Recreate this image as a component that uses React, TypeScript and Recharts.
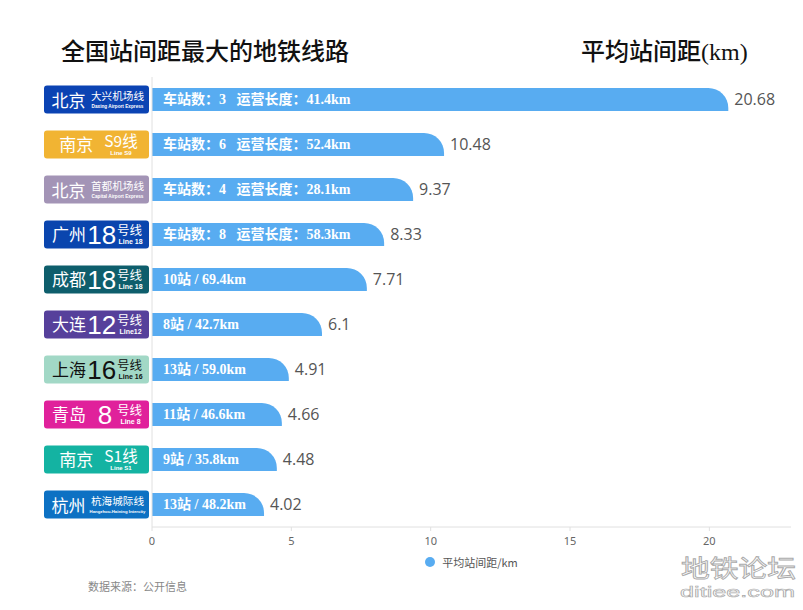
import React from 'react';
import { BarChart, Bar, XAxis, YAxis, LabelList, Legend } from 'recharts';

const lineKeys = ['北京大兴机场线', '南京S9线', '北京首都机场线', '广州18号线', '成都18号线', '大连12号线', '上海16号线', '青岛8号线', '南京S1线', '杭州杭海城际线'];
const avgSpacing = [20.68, 10.48, 9.37, 8.33, 7.71, 6.1, 4.91, 4.66, 4.48, 4.02];
const stationCounts = [3, 6, 4, 8, 10, 8, 13, 11, 9, 13];
const routeLengths = ['41.4', '52.4', '28.1', '58.3', '69.4', '42.7', '59.0', '46.6', '35.8', '48.2'];
const cityNames = ['北京', '南京', '北京', '广州', '成都', '大连', '上海', '青岛', '南京', '杭州'];
const lineNamesCn = ['大兴机场线', 'S9线', '首都机场线', '18', '18', '12', '16', '8', 'S1线', '杭海城际线'];
const lineNamesEn = ['Daxing Airport Express', 'Line S9', 'Capital Airport Express', 'Line 18', 'Line 18', 'Line12', 'Line 16', 'Line 8', 'Line S1', 'Hangzhou-Haining Intercity'];
const badgeKinds = ['name', 's', 'name', 'num', 'num', 'num', 'num', 'num', 's', 'name'];
const badgeColors = ['#0b43b3', '#f1b433', '#a394b6', '#0a45ae', '#0e5e6c', '#56409b', '#a2d8c6', '#e0219b', '#14b3a2', '#0d71c3'];
const badgeTextColors = ['#fff', '#fff', '#fff', '#fff', '#fff', '#fff', '#111', '#fff', '#fff', '#fff'];
const xTicks = [0, 5, 10, 15, 20];

const BAR_COLOR = '#58acf1';
const CJK = "'Noto Sans CJK SC', 'Noto Sans', sans-serif";
const SANS = "'Liberation Sans', Arial, sans-serif";

const data = lineKeys.map((k, i) => ({
  line: k,
  value: avgSpacing[i],
  inner: i < 4
    ? `车站数：${stationCounts[i]}\u00A0\u00A0\u00A0运营长度：${routeLengths[i]}km`
    : `${stationCounts[i]}站 / ${routeLengths[i]}km`,
}));

const renderBar = (p: any) => {
  const { x, y, width, height, fill } = p;
  if (!width || width <= 0) return <g />;
  const r = Math.min(20, width, height);
  const d = `M${x},${y} H${x + width - r} A${r},${r} 0 0 1 ${x + width},${y + r} V${y + height} H${x} Z`;
  return <path d={d} fill={fill} />;
};

const renderInner = (p: any) => {
  const { x, y, height, value } = p;
  return (
    <text
      x={x + 11}
      y={y + height / 2}
      dominantBaseline="central"
      fill="#fff"
      fontWeight="bold"
      fontSize={14}
      fontFamily="'Liberation Serif', 'Noto Sans CJK SC', serif"
    >
      {value}
    </text>
  );
};

const renderBadge = (p: any) => {
  const { x, y, payload } = p;
  const i = lineKeys.indexOf(payload.value);
  if (i < 0) return <g />;
  const kind = badgeKinds[i];
  const col = badgeTextColors[i];
  const L = x - 108;
  const parts: any[] = [];
  if (kind === 'name') {
    parts.push(
      <text key="c" x={x - 83.5} y={y + 7.5} textAnchor="middle" fontSize={17} fontFamily={CJK} fill={col}>{cityNames[i]}</text>,
      <text key="n" x={x - 34.5} y={y + 0.5} textAnchor="middle" fontSize={10.6} fontFamily={CJK} fill={col}>{lineNamesCn[i]}</text>,
      <text key="e" x={x - 34.5} y={y + 8} textAnchor="middle" fontSize={i === 9 ? 4.3 : 4.7} fontWeight="bold" fontFamily={SANS} fill={col}>{lineNamesEn[i]}</text>,
    );
  } else if (kind === 's') {
    parts.push(
      <text key="c" x={x - 75.7} y={y + 6.5} textAnchor="middle" fontSize={17} fontFamily={CJK} fill={col}>{cityNames[i]}</text>,
      <text key="n" x={x - 31} y={y + 2} textAnchor="middle" fontSize={15.5} fontFamily={CJK} fill={col}>{lineNamesCn[i]}</text>,
      <text key="e" x={x - 31} y={y + 10.5} textAnchor="middle" fontSize={6} fontWeight="bold" fontFamily={SANS} fill={col}>{lineNamesEn[i]}</text>,
    );
  } else {
    const single = lineNamesCn[i].length === 1;
    parts.push(
      <text key="c" x={x - 83} y={y + 6.5} textAnchor="middle" fontSize={17} fontFamily={CJK} fill={col}>{cityNames[i]}</text>,
      <text key="d" x={x - (single ? 47 : 50.3)} y={y + 9.5} textAnchor="middle" fontSize={26} fontFamily={SANS} fill={col}>{lineNamesCn[i]}</text>,
      <text key="n" x={x - 22.5} y={y + 0} textAnchor="middle" fontSize={12.5} fontFamily={CJK} fill={col}>号线</text>,
      <text key="e" x={x - 21.5} y={y + 9} textAnchor="middle" fontSize={7} fontWeight="bold" fontFamily={SANS} fill={col}>{lineNamesEn[i]}</text>,
    );
  }
  return (
    <g>
      <rect x={L} y={y - 14} width={105} height={28} rx={3} ry={3} fill={badgeColors[i]} />
      {parts}
    </g>
  );
};

const renderLegend = () => (
  <div style={{ height: 10, display: 'flex', justifyContent: 'center', alignItems: 'center', overflow: 'visible' }}>
    <svg width={10} height={10} style={{ overflow: 'visible' }}>
      <circle cx={5} cy={5} r={5} fill={BAR_COLOR} />
    </svg>
    <span style={{ marginLeft: 7, fontSize: 11, color: '#555', fontFamily: CJK, lineHeight: '10px', whiteSpace: 'nowrap' }}>平均站间距/km</span>
  </div>
);

export default function App() {
  return (
    <div style={{ position: 'absolute', left: 0, top: 0, width: 803, height: 610, background: '#fff', fontFamily: "'Noto Sans', 'Noto Sans CJK SC', sans-serif" }}>
      <BarChart width={803} height={610} data={data} layout="vertical" margin={{ top: 77, right: 12, left: 0, bottom: 43 }} barSize={23}>
        <XAxis
          type="number"
          domain={[0, 22.93]}
          allowDataOverflow
          ticks={xTicks}
          axisLine={{ stroke: '#e0e0e0' }}
          tickLine={{ stroke: '#e0e0e0' }}
          tickSize={4}
          tickMargin={6}
          tick={{ fill: '#666', fontSize: 11 }}
          height={30}
        />
        <YAxis
          type="category"
          dataKey="line"
          width={152}
          interval={0}
          axisLine={{ stroke: '#e0e0e0' }}
          tickLine={false}
          tickSize={0}
          tickMargin={0}
          tick={renderBadge}
        />
        <Legend verticalAlign="bottom" content={renderLegend} wrapperStyle={{ left: 152, width: 639, height: 10 }} />
        <Bar dataKey="value" name="平均站间距/km" fill={BAR_COLOR} shape={renderBar} isAnimationActive={false}>
          <LabelList dataKey="inner" content={renderInner} />
          <LabelList dataKey="value" position="right" offset={6} fill="#555" fontSize={16} fontFamily="'Open Sans', 'Noto Sans', sans-serif" />
        </Bar>
      </BarChart>
      <svg width={803} height={610} style={{ position: 'absolute', left: 0, top: 0, pointerEvents: 'none' }}>
        <text x={61} y={60} fontSize={24} fontWeight={500} fontFamily={CJK} fill="#111">全国站间距最大的地铁线路</text>
        <text x={581} y={60} fontSize={24} fontWeight={500} fontFamily={CJK} fill="#111">
          平均站间距<tspan fontFamily="'Liberation Serif', serif" fontWeight={400}>(km)</tspan>
        </text>
        <text x={88} y={590.5} fontSize={11} fontFamily={CJK} fill="#888">数据来源：公开信息</text>
        <text x={681} y={577} fontSize={24} textLength={115} lengthAdjust="spacingAndGlyphs" fontFamily={CJK} fill="#fff" stroke="#aaa" strokeWidth={0.9}>地铁论坛</text>
        <text x={680} y={597} fontSize={15} textLength={115} lengthAdjust="spacingAndGlyphs" fontFamily={SANS} fill="#fff" stroke="#aaa" strokeWidth={0.6}>ditiee.com</text>
      </svg>
    </div>
  );
}
